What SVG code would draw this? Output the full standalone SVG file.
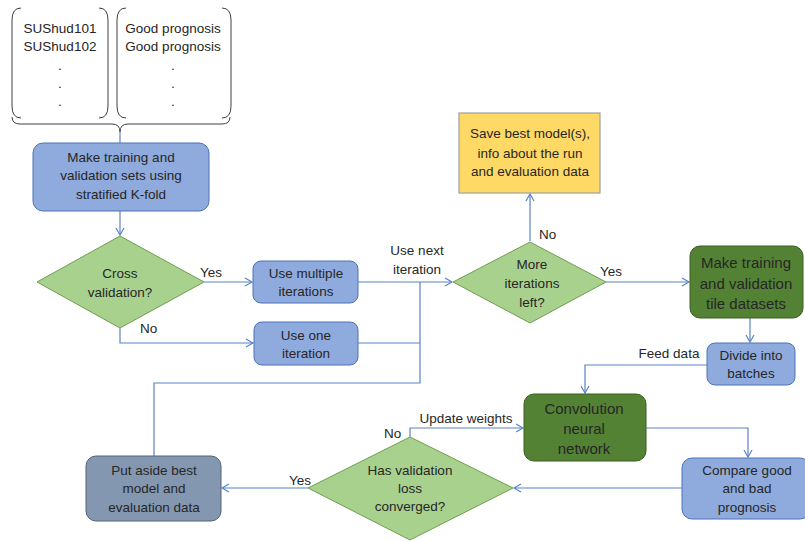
<svg xmlns="http://www.w3.org/2000/svg" width="805" height="541" viewBox="0 0 805 541">
<defs>
<marker id="arr" markerWidth="10" markerHeight="10" refX="8" refY="5" orient="auto" markerUnits="userSpaceOnUse">
<path d="M1,1 L8,5 L1,9" fill="none" stroke="#5B82C8" stroke-width="1.2"/>
</marker>
<style>
text{font-family:"Liberation Sans",Arial,sans-serif;font-size:13.5px;fill:#262626;text-anchor:middle}
.lab{text-anchor:start}
.blue{fill:#8FAADC;stroke:#4A72B8;stroke-width:1}
.dia{fill:#A9D18E;stroke:#6F9E50;stroke-width:1}
.dg{fill:#548235;stroke:#3A5E22;stroke-width:1}
.gb{fill:#8497B0;stroke:#50627A;stroke-width:1}
.yel{fill:#FFD966;stroke:#A0A0A0;stroke-width:1.2}
.br{fill:none;stroke:#404040;stroke-width:1}
.c{fill:none;stroke:#5B82C8;stroke-width:1.2}
.big{font-size:15px}
</style>
</defs>
<rect width="805" height="541" fill="#ffffff"/>

<g id="patients">
<path class="br" d="M21,8 Q12,8 12,20 L12,106 Q12,118 21,118"/>
<path class="br" d="M99,8 Q108,8 108,20 L108,106 Q108,118 99,118"/>
<text x="60" y="33">SUShud101</text>
<text x="60" y="51">SUShud102</text>
<text x="60" y="70">.</text>
<text x="60" y="88">.</text>
<text x="60" y="106">.</text>
</g>
<g id="prognosis">
<path class="br" d="M126,8 Q117,8 117,20 L117,106 Q117,118 126,118"/>
<path class="br" d="M222,8 Q231,8 231,20 L231,106 Q231,118 222,118"/>
<text x="173" y="33">Good prognosis</text>
<text x="173" y="51">Good prognosis</text>
<text x="173" y="70">.</text>
<text x="173" y="88">.</text>
<text x="173" y="106">.</text>
</g>
<g id="brace">
<path class="br" d="M12,117 Q12,124 20,124 L112,124 Q120,124 120,132 Q120,124 128,124 L222,124 Q230,124 230,117"/>
</g>

<g id="connectors">
<path class="c" d="M120,131 L120,143"/>
<path class="c" d="M120,211 L120,235" marker-end="url(#arr)"/>
<path class="c" d="M204,282 L252,282" marker-end="url(#arr)"/>
<path class="c" d="M120,328 L120,343 L253,343" marker-end="url(#arr)"/>
<path class="c" d="M358,282 L452,282" marker-end="url(#arr)"/>
<path class="c" d="M358,343 L420,343"/>
<path class="c" d="M420,282 L420,383 L154,383 L154,456"/>
<path class="c" d="M530,241 L530,194" marker-end="url(#arr)"/>
<path class="c" d="M606,282 L689,282" marker-end="url(#arr)"/>
<path class="c" d="M750,318 L750,342" marker-end="url(#arr)"/>
<path class="c" d="M707,365 L585,365 L585,393" marker-end="url(#arr)"/>
<path class="c" d="M646,428 L748,428 L748,457" marker-end="url(#arr)"/>
<path class="c" d="M682,488 L514,488" marker-end="url(#arr)"/>
<path class="c" d="M410,437 L410,428 L523,428" marker-end="url(#arr)"/>
<path class="c" d="M308,488 L222,488" marker-end="url(#arr)"/>
<text class="lab" x="200" y="277">Yes</text>
<text class="lab" x="140" y="333">No</text>
<text x="417" y="255">Use next</text>
<text x="417" y="274">iteration</text>
<text class="lab" x="539" y="239">No</text>
<text class="lab" x="600" y="276">Yes</text>
<text x="669" y="358">Feed data</text>
<text x="466" y="423">Update weights</text>
<text class="lab" x="384" y="438">No</text>
<text class="lab" x="289" y="485">Yes</text>
</g>

<g id="make-sets">
<rect class="blue" x="33" y="143" width="176" height="68" rx="10"/>
<text x="121" y="162">Make training and</text>
<text x="121" y="180">validation sets using</text>
<text x="121" y="199">stratified K-fold</text>
</g>
<g id="cross-validation">
<polygon class="dia" points="120,236 204,282 120,328 37,282"/>
<text x="120" y="278">Cross</text>
<text x="120" y="297">validation?</text>
</g>
<g id="multiple">
<rect class="blue" x="253" y="261" width="105" height="42" rx="8"/>
<text x="306" y="278">Use multiple</text>
<text x="306" y="296">iterations</text>
</g>
<g id="one">
<rect class="blue" x="254" y="322" width="104" height="43" rx="8"/>
<text x="306" y="340">Use one</text>
<text x="306" y="358">iteration</text>
</g>
<g id="more-iterations">
<polygon class="dia" points="530,242 606,282 530,323 453,282"/>
<text x="532" y="269">More</text>
<text x="532" y="288">iterations</text>
<text x="532" y="307">left?</text>
</g>
<g id="save">
<rect class="yel" x="459" y="113" width="141" height="80"/>
<text x="530" y="138">Save best model(s),</text>
<text x="530" y="158">info about the run</text>
<text x="530" y="176">and evaluation data</text>
</g>
<g id="tile-datasets">
<rect class="dg" x="690" y="246" width="113" height="72" rx="10"/>
<text class="big" x="746" y="268">Make training</text>
<text class="big" x="746" y="289">and validation</text>
<text class="big" x="746" y="309">tile datasets</text>
</g>
<g id="batches">
<rect class="blue" x="707" y="343" width="88" height="42" rx="8"/>
<text x="751" y="360">Divide into</text>
<text x="751" y="378">batches</text>
</g>
<g id="cnn">
<rect class="dg" x="524" y="394" width="122" height="67" rx="10"/>
<text class="big" x="584" y="414">Convolution</text>
<text class="big" x="584" y="434">neural</text>
<text class="big" x="584" y="454">network</text>
</g>
<g id="compare">
<rect class="blue" x="682" y="458" width="128" height="61" rx="10"/>
<text x="747" y="475">Compare good</text>
<text x="747" y="493">and bad</text>
<text x="747" y="512">prognosis</text>
</g>
<g id="converged">
<polygon class="dia" points="410,437 513,488 410,540 308,488"/>
<text x="410" y="475">Has validation</text>
<text x="410" y="493">loss</text>
<text x="410" y="511">converged?</text>
</g>
<g id="put-aside">
<rect class="gb" x="86" y="456" width="135" height="65" rx="10"/>
<text x="154" y="475">Put aside best</text>
<text x="154" y="493">model and</text>
<text x="154" y="512">evaluation data</text>
</g>
</svg>
